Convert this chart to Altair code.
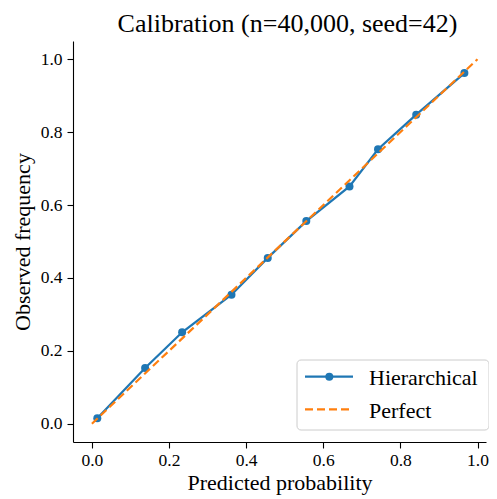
import altair as alt
import pandas as pd

# ---- data ----
pred = [0.014, 0.138, 0.234, 0.362, 0.456, 0.556, 0.668, 0.742, 0.841, 0.966]
obs = [0.015, 0.153, 0.251, 0.354, 0.455, 0.556, 0.651, 0.753, 0.848, 0.962]
perfect = [0.0, 1.0]
ticks = [0.0, 0.2, 0.4, 0.6, 0.8, 1.0]
legend_labels = ["Hierarchical", "Perfect"]
title_text = "Calibration (n=40,000, seed=42)"

FONT = "Liberation Serif"
BLUE = "#1f77b4"
ORANGE = "#ff7f0e"

df = pd.DataFrame({"pred": pred, "obs": obs})
dp = pd.DataFrame({"pred": perfect, "obs": perfect})
one = pd.DataFrame({"k": [0]})

xs = alt.Scale(domain=[-0.049, 1.022], nice=False, zero=False)
ys = alt.Scale(domain=[-0.05, 1.05], nice=False, zero=False)

axis_common = dict(values=ticks, format=".1f", grid=False, labelFont=FONT,
                   titleFont=FONT, labelFontSize=17.5, titleFontSize=22)

xax = alt.Axis(title="Predicted probability", labelPadding=3, titlePadding=4, **axis_common)
yax = alt.Axis(title="Observed frequency", labelPadding=5, titlePadding=6, **axis_common)

line = alt.Chart(df).mark_line(color=BLUE, strokeWidth=2.2).encode(
    x=alt.X("pred:Q", scale=xs, axis=xax),
    y=alt.Y("obs:Q", scale=ys, axis=yax),
)
pts = alt.Chart(df).mark_circle(color=BLUE, size=64, opacity=1).encode(
    x=alt.X("pred:Q", scale=xs), y=alt.Y("obs:Q", scale=ys)
)
perf = alt.Chart(dp).mark_line(color=ORANGE, strokeWidth=2.2, strokeDash=[8, 4]).encode(
    x=alt.X("pred:Q", scale=xs), y=alt.Y("obs:Q", scale=ys)
)

# ---- legend ----
lg_box = alt.Chart(one).mark_rect(fill="white", fillOpacity=0.8, stroke="#cccccc",
                                  strokeWidth=1, cornerRadius=4).encode(
    x=alt.value(224), x2=alt.value(416), y=alt.value(319), y2=alt.value(389))
lg_l1 = alt.Chart(one).mark_rule(color=BLUE, strokeWidth=2.2).encode(
    x=alt.value(232), x2=alt.value(280), y=alt.value(335.7))
lg_p1 = alt.Chart(one).mark_circle(color=BLUE, size=64, opacity=1).encode(
    x=alt.value(256.3), y=alt.value(335.7))
lg_l2 = alt.Chart(one).mark_rule(color=ORANGE, strokeWidth=2.2, strokeDash=[8, 4]).encode(
    x=alt.value(232), x2=alt.value(280), y=alt.value(368.3))
lg_t1 = alt.Chart(pd.DataFrame({"label": [legend_labels[0]]})).mark_text(
    font=FONT, fontSize=22, align="left", baseline="middle", color="black").encode(
    x=alt.value(296), y=alt.value(337), text="label:N")
lg_t2 = alt.Chart(pd.DataFrame({"label": [legend_labels[1]]})).mark_text(
    font=FONT, fontSize=22, align="left", baseline="middle", color="black").encode(
    x=alt.value(296), y=alt.value(369.5), text="label:N")

chart = alt.layer(line, pts, perf, lg_box, lg_l1, lg_p1, lg_l2, lg_t1, lg_t2).properties(
    width=413, height=401,
    autosize=alt.AutoSizeParams(type="none"),
    padding={"left": 65, "top": 33, "right": 3, "bottom": 55},
    title=alt.Title(title_text, font=FONT, fontSize=26, fontWeight="normal",
                    color="black", anchor="middle", offset=4, dx=8),
).configure(font=FONT).configure_view(stroke=None).configure_axis(
    labelFont=FONT, titleFont=FONT, labelFontSize=17.5, titleFontSize=22,
    titleFontWeight="normal", labelColor="black", titleColor="black",
    domainColor="black", tickColor="black", tickSize=6, domainWidth=1.1, tickWidth=1.1,
)

chart.save("out.html", embed_options={"renderer": "svg", "actions": False})
